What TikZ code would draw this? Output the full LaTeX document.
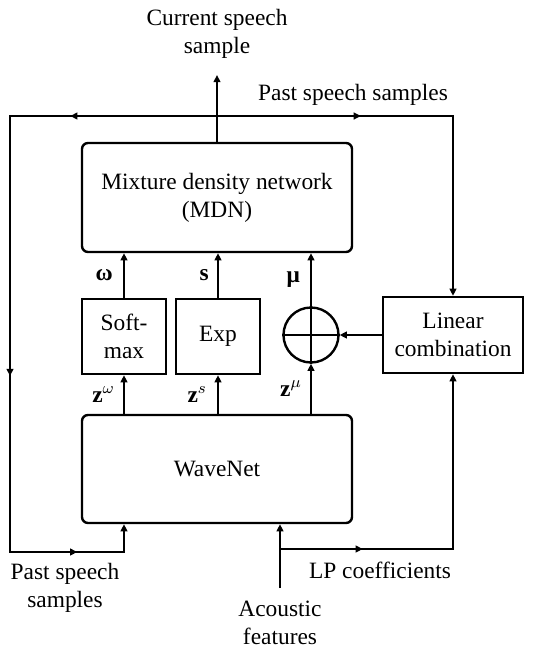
\documentclass[tikz,border=0pt]{standalone}
\usepackage{fontspec}
\setmainfont{Liberation Serif}
\usepackage{amsmath}
\usetikzlibrary{arrows.meta,decorations.markings,positioning}

\begin{document}
\begin{tikzpicture}[x=0.5pt,y=-0.5pt,
			line width=1.2pt,>={Triangle[length=3.6pt,width=3.4pt]},
			font=\fontsize{11.7}{14}\selectfont,
			block/.style={draw,rounded corners=3pt,minimum width=135pt,minimum height=54.5pt,align=center,inner sep=0pt},
			small block/.style={draw,minimum width=42pt,minimum height=37.5pt,align=center,inner sep=0pt},
			label text/.style={align=center,inner sep=0pt}]
			\useasboundingbox (0,0) rectangle (534,650);
			% blocks
			\node[block] (mdn) at (217,197.5) {Mixture density network\\(MDN)};
			\node[block, minimum height=54pt] (wave) at (217,469) {WaveNet};
			\node[small block] (softmax) at (124,336.5) {Soft-\\max};
			\node[small block] (expb) at (218,336.5) {Exp};
			\node[draw,circle,minimum size=27.5pt,inner sep=0pt] (sum) at (311,335) {};
			\draw (sum.west) -- (sum.east) (sum.north) -- (sum.south);
			\node[small block, minimum width=70pt, minimum height=38pt] (lin) at (453,335) {Linear\\combination};
			% texts
			\node[label text] (cur) at (217,33.5) {Current speech\\sample};
			\node[label text, anchor=base] (pasttop) at (353,100) {Past speech samples};
			\node[label text] (pastbot) at (65,587.5) {Past speech\\samples};
			\node[label text, anchor=base] (lp) at (380,578) {LP coefficients};
			\node[label text] (acfeat) at (280,623) {Acoustic\\features};
			% points
			\coordinate (outtip) at (217,75);
			\coordinate (jtop) at (217,116);
			\coordinate (topL) at (10,116);
			\coordinate (topR) at (453,116);
			\coordinate (botL) at (10,552);
			\coordinate (acin) at (280,588);
			\coordinate (jlp) at (280,549);
			% MDN inputs
			\draw[->] (softmax) -- (softmax |- mdn.south) node[midway,left=5pt,inner sep=0pt] {\bfseries ω};
			\draw[->] (expb) -- (expb |- mdn.south) node[midway,left=4pt,inner sep=0pt] {\bfseries s};
			\draw[->] (sum.north) -- (sum |- mdn.south) node[midway,left=5pt,inner sep=0pt] {\bfseries μ};
			% WaveNet outputs
			\draw[->] (wave.north -| softmax) -- (softmax) node[midway,left=4pt,inner sep=0pt] {$\mathbf{z}^{\omega}$};
			\draw[->] (wave.north -| expb) -- (expb) node[midway,left=5pt,inner sep=0pt] {$\mathbf{z}^{s}$};
			\draw[->] (wave.north -| sum) -- (sum.south) node[midway,left=4pt,inner sep=0pt] {$\mathbf{z}^{\mu}$};
			\draw[->] (lin) -- (sum);
			% feedback of samples
			\draw[->] (mdn) -- (outtip);
			\draw[->,postaction={decorate},decoration={markings,
				mark=at position 0.187 with {\arrow{>}},
				mark=at position 0.595 with {\arrow{>}},
				mark=at position 0.905 with {\arrow{>}}}]
				(jtop) -- (topL) -- (botL) -- (botL -| softmax) -- (wave.south -| softmax);
			\draw[->,postaction={decorate},decoration={markings,
				mark=at position 0.346 with {\arrow{>}}}]
				(jtop) -- (topR) -- (lin);
			% acoustic features and LP coefficients
			\draw[->] (acin) -- (wave.south -| acin);
			\draw[->,postaction={decorate},decoration={markings,
				mark=at position 0.238 with {\arrow{>}}}]
				(jlp) -- (jlp -| lin) -- (lin);
		\end{tikzpicture}
\end{document}
